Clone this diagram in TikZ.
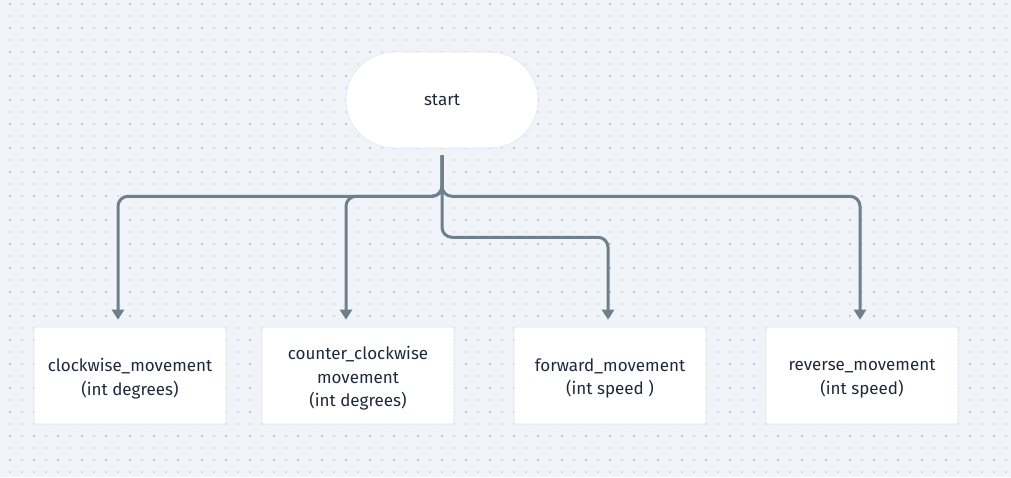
\documentclass[tikz,border=0pt]{standalone}
\usepackage{fontspec}
\setmainfont{Fira Sans}
\usetikzlibrary{arrows.meta}

\definecolor{bgcol}{HTML}{F0F3F7}
\definecolor{dotdark}{HTML}{BFC7D6}
\definecolor{dotlight}{HTML}{D8DEE7}
\definecolor{linkcol}{HTML}{6E7F8E}
\definecolor{textcol}{HTML}{1E2A3B}
\definecolor{boxline}{HTML}{E2E6EC}

\begin{document}
\begin{tikzpicture}[x=1pt,y=-1pt,
	box/.style={fill=white,draw=boxline,line width=0.6pt,rounded corners=2pt,
		minimum width=192pt,minimum height=97pt},
	boxtext/.style={align=center,text=textcol,yshift=-3pt,
		font=\fontsize{17}{23.5}\selectfont},
	terminal/.style={box,rounded corners=48pt,minimum height=96pt,text=textcol,
		font=\fontsize{17}{23.5}\selectfont},
	link/.style={draw=linkcol,line width=3pt,rounded corners=10pt,
		-{Triangle[width=12pt,length=10pt]},shorten <=7pt,shorten >=7pt}]
	% background and dot grid
	\fill[bgcol] (0,0) rectangle (1011,477);
	\useasboundingbox (0,0) rectangle (1011,477);
	\foreach \x in {10,22,...,1006}
		\foreach \y in {4,16,...,472}
			\fill[dotlight] (\x-1,\y-1) rectangle ++(2,2);
	\foreach \x in {10,34,...,1006}
		\foreach \y in {4,28,...,472}
			\fill[dotdark] (\x-1,\y-1) rectangle ++(2,2);
	% nodes
	\node[terminal] (start) at (442,100) {start};
	\node[box] (cw) at (130,375.5) {};
	\node[box] (ccw) at (358,375.5) {};
	\node[box] (fwd) at (610,375.5) {};
	\node[box] (rev) at (862,375.5) {};
	\node[boxtext] (cwtext) at (cw) {clockwise\_movement\\(int degrees)};
	\node[boxtext] (ccwtext) at (ccw) {counter\_clockwise\\movement\\(int degrees)};
	\node[boxtext] (fwdtext) at (fwd) {forward\_movement\\(int speed )};
	\node[boxtext] (revtext) at (rev) {reverse\_movement\\(int speed)};
	% connectors
	\draw[link] (start.south) -- ++(0,48) -| ([xshift=-12pt]cw.north);
	\draw[link] (start.south) -- ++(0,48) -| ([xshift=-12pt]ccw.north);
	\draw[link] (start.south) -- ++(0,89) -| ([xshift=-2pt]fwd.north);
	\draw[link] (start.south) -- ++(0,48) -| ([xshift=-2pt]rev.north);
\end{tikzpicture}
\end{document}
